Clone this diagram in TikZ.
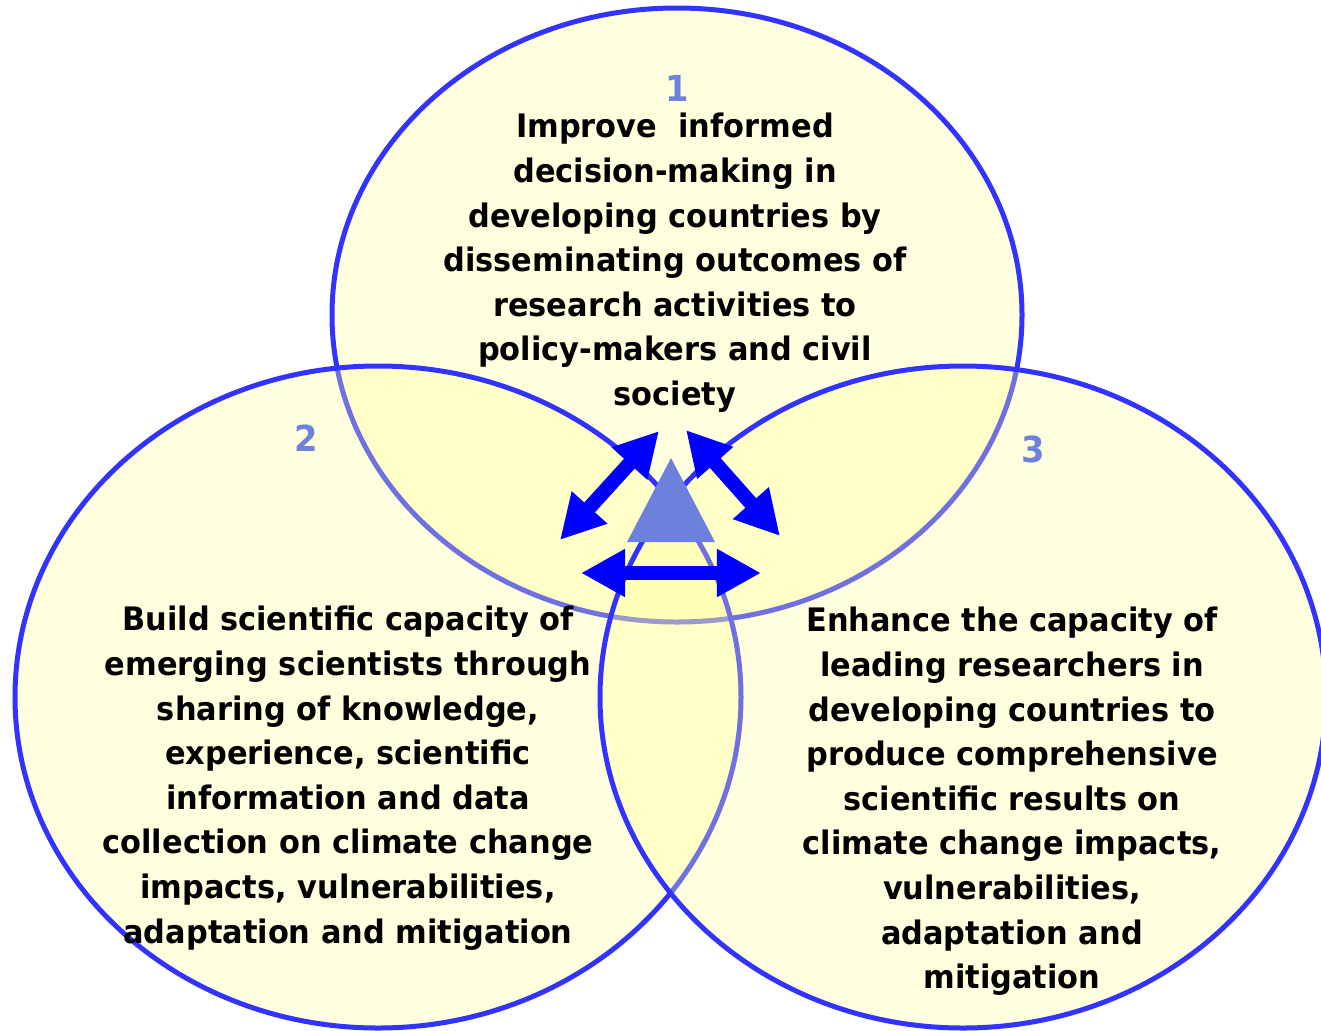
\documentclass[tikz,border=0pt]{standalone}
\usepackage{fontspec}
\setmainfont{DejaVu Sans}[FakeStretch=0.94]
\usetikzlibrary{arrows.meta}
\definecolor{ringblue}{RGB}{51,51,255}
\definecolor{fillyel}{RGB}{255,255,150}
\definecolor{numblue}{RGB}{110,130,220}
\definecolor{triblue}{RGB}{108,128,220}
\definecolor{arrblue}{RGB}{0,0,255}
\begin{document}
\begin{tikzpicture}[x=0.01cm,y=-0.01cm,
  ring/.style={draw=ringblue,line width=0.05cm,fill=fillyel,fill opacity=0.3},
  goal/.style={align=center,inner sep=0pt,anchor=north,
    font=\bfseries\fontsize{9.2pt}{12.69pt}\selectfont},
  num/.style={inner sep=0pt,text=numblue,
    font=\bfseries\fontsize{10.2pt}{12pt}\selectfont},
  dbl/.style={draw=arrblue,line width=0.145cm,
    {Triangle[length=0.44cm,width=0.45cm]}-{Triangle[length=0.44cm,width=0.45cm]}}]
\useasboundingbox[fill=white] (0,0) rectangle (1321,1030);
% circles
\draw[ring] (677,315) ellipse [x radius=345, y radius=307];
\draw[ring] (378,697) ellipse [x radius=363, y radius=331];
\draw[ring] (963,697) ellipse [x radius=363, y radius=331];
% central triangle
\fill[triblue] (671,458) -- (715,542) -- (627,542) -- cycle;
% arrow end points
\coordinate (lu) at (659,431);
\coordinate (ld) at (560,540);
\coordinate (ru) at (686,430);
\coordinate (rd) at (780,536);
\coordinate (hl) at (581,573);
\coordinate (hr) at (761,573);
\draw[dbl] (lu) -- (ld);
\draw[dbl] (ru) -- (rd);
\draw[dbl] (hl) -- (hr);
% numbers
\node[num] (n1) at (677,88) {1};
\node[num] (n2) at (306,438) {2};
\node[num] (n3) at (1033,449) {3};
% texts
\node[goal] (g1) at (675,112.5) {Improve\ \ informed\\decision-making in\\developing countries by\\disseminating outcomes of\\research activities to\\policy-makers and civil\\society};
\node[goal] (g2) at (348,605.5) {Build scientific capacity of\\emerging scientists through\\sharing of knowledge,\\experience, scientific\\information and data\\collection on climate change\\impacts, vulnerabilities,\\adaptation and mitigation};
\node[goal] (g3) at (1012,606.5) {Enhance the capacity of\\leading researchers in\\developing countries to\\produce comprehensive\\scientific results on\\climate change impacts,\\vulnerabilities,\\adaptation and\\mitigation};
\end{tikzpicture}
\end{document}
